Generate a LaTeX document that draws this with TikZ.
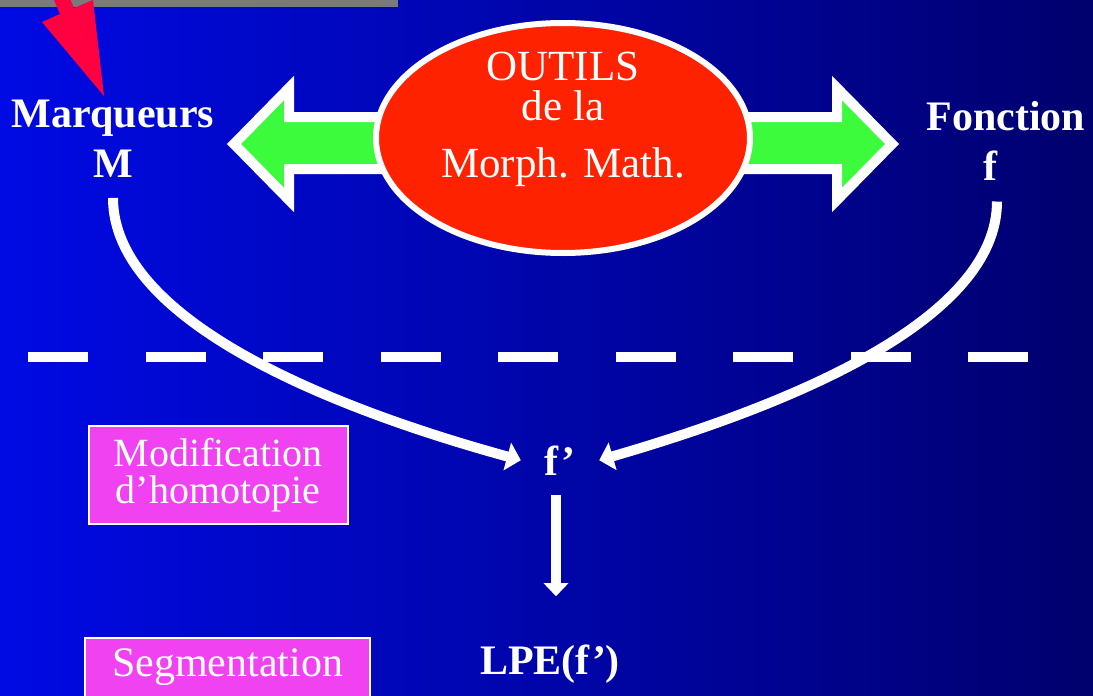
\documentclass[tikz,border=0pt]{standalone}
\usepackage{fontspec}
\setmainfont{Liberation Serif}
\usetikzlibrary{arrows.meta,shapes.geometric}
\definecolor{bleuclair}{RGB}{0,10,228}
\definecolor{bleufonce}{RGB}{0,0,110}
\definecolor{rougeovale}{RGB}{255,34,0}
\definecolor{vertfleche}{RGB}{60,250,60}
\definecolor{rose}{RGB}{240,66,240}
\definecolor{rougepointe}{RGB}{255,0,64}
\definecolor{barre}{RGB}{122,122,122}
\begin{document}
\begin{tikzpicture}[x=1pt,y=-1pt,
  gras/.style={text=white,inner sep=0pt,align=center,font=\fontsize{42}{50}\selectfont\bfseries},
  maigre/.style={text=white,inner sep=0pt,align=center,font=\fontsize{43}{40}\selectfont},
  bloc/.style={draw=white,fill=vertfleche,line width=10pt},
  courbe/.style={white,line width=10pt,-{Triangle[width=28pt,length=14pt]}},
  boite/.style={draw=white,line width=2pt,fill=rose,text=white,align=center,font=\fontsize{40}{37}\selectfont}]
  \useasboundingbox (0,0) rectangle (1093,696);
  \clip (0,0) rectangle (1093,696);
  \shade[left color=bleuclair,right color=bleufonce] (0,0) rectangle (1093,696);
  \fill[barre] (0,0) rectangle (398,7);
  \fill[rougepointe] (104,96) -- (42,22) -- (60,14) -- (44,-23) -- (58,-29) -- (74,8) -- (93,0) -- cycle;
  % ligne pointillee
  \foreach \i in {0,...,8}
    \fill[white] (28+117.5*\i,352) rectangle +(60,10);
  % fleches vertes
  \draw[bloc] (234,144) -- (289,88) -- (289,117) -- (420,117) -- (420,169) -- (289,169) -- (289,200) -- cycle;
  \draw[bloc] (892,144) -- (837,88) -- (837,117) -- (706,117) -- (706,169) -- (837,169) -- (837,200) -- cycle;
  \node[ellipse,draw=white,line width=6pt,fill=rougeovale,minimum width=374pt,minimum height=230pt] (outils) at (563,138) {};
  \node[maigre,anchor=north] (titre) at (563,52) {OUTILS\\de la\\[17pt]Morph. Math.};
  \node[gras,anchor=north] (marq) at (113,100) {Marqueurs\\M};
  \node[gras,anchor=north] (fonc) at (1006,101) {Fonction\\f\hspace*{32pt}};
  \node[gras,anchor=base,minimum width=78pt] (fp) at (560,475) {f'};
  \node[gras,anchor=base] (lpe) at (550,674) {LPE(f')};
  \node[boite,minimum width=259pt,minimum height=98pt] (modif) at (218,475) {Modification\\d'homotopie};
  \node[boite,anchor=north,minimum width=285pt,inner ysep=7pt,text height=31pt,text depth=40pt,font=\fontsize{42}{37}\selectfont] (segm) at (227.5,637) {Segmentation};
  % fleches blanches
  \draw[courbe,shorten <=20pt] (marq.south) .. controls +(0,142) and +(-193,-53) .. (fp.west);
  \draw[courbe,shorten <=21pt] ([xshift=-9pt]fonc.south) .. controls +(0,140) and +(190,-55) .. (fp.east);
  \draw[white,line width=10pt,-{Triangle[width=24pt,length=13pt]},shorten <=20pt,shorten >=48pt]
    ([xshift=-4pt]fp.south) -- ([xshift=-4pt]fp.south |- lpe.north);
\end{tikzpicture}
\end{document}
